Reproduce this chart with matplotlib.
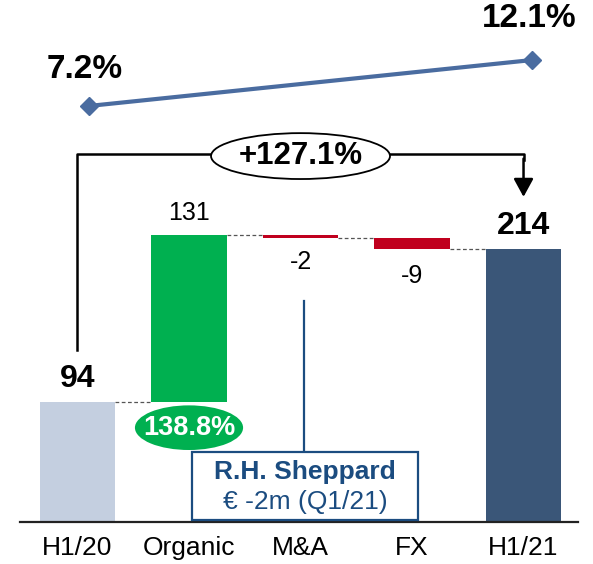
import matplotlib.pyplot as plt
from matplotlib.patches import Ellipse, Rectangle

plt.rcParams["font.family"] = ["Liberation Sans", "DejaVu Sans"]

# EBITDA bridge H1/20 -> H1/21 (EUR m)
categories = ["H1/20", "Organic", "M&A", "FX", "H1/21"]
start_value = 94
deltas = [131, -2, -9]
end_value = 214
value_labels = ["94", "131", "-2", "-9", "214"]

margin_pos = [0.1, 4.08]
margins = [7.2, 12.1]
margin_labels = ["7.2%", "12.1%"]

growth_label = "+127.1%"
organic_label = "138.8%"
box_title = "R.H. Sheppard"
box_text = "€ -2m (Q1/21)"

c_start = "#C4CFE0"
c_up = "#00B050"
c_down = "#C0001E"
c_end = "#3A5678"
c_line = "#4A6CA0"
c_box = "#1B4C80"

# waterfall geometry
levels = [start_value]
for d in deltas:
    levels.append(levels[-1] + d)
bottoms = [0]
heights = [start_value]
colors = [c_start]
for i, d in enumerate(deltas):
    bottoms.append(min(levels[i], levels[i + 1]))
    heights.append(abs(d))
    colors.append(c_up if d > 0 else c_down)
bottoms.append(0)
heights.append(end_value)
colors.append(c_end)
x = list(range(len(categories)))
width = 0.673

fig = plt.figure(figsize=(5.93, 5.64), dpi=100)
ax = fig.add_axes([0, 0, 1, 1])
ax.set_xlim(-0.695, 4.623)
ax.set_ylim(-32.9, 409.4)
ax.axis("off")

ax.bar(x, heights, bottom=bottoms, width=width, color=colors, zorder=2)

# connectors between bars
run = [start_value] + levels[1:]
for i in range(len(x) - 1):
    ax.plot([x[i] + width / 2, x[i + 1] - width / 2], [run[i], run[i]],
            ls=(0, (3, 2)), color="#555555", lw=0.9, zorder=1)

# baseline
ax.plot([-0.516, 4.489], [0, 0], color="#222222", lw=1.6, zorder=3)

# value labels
ax.text(x[0], start_value + 18, value_labels[0], ha="center", va="center",
        fontsize=23, fontweight="bold")
ax.text(x[1], levels[1] + 17, value_labels[1], ha="center", va="center", fontsize=18)
ax.text(x[2], levels[2] - 19, value_labels[2], ha="center", va="center", fontsize=18)
ax.text(x[3], levels[3] - 21, value_labels[3], ha="center", va="center", fontsize=18)
ax.text(x[4], end_value + 18, value_labels[4], ha="center", va="center",
        fontsize=23, fontweight="bold")

# category labels
for xi, cat in zip(x, categories):
    ax.text(xi, -20.4, cat, ha="center", va="center", fontsize=19)

# growth bracket with arrow
br_y = 289
ax.plot([x[0], x[0], x[4], x[4]],
        [start_value + 41, br_y, br_y, br_y - 5], color="black", lw=1.8, zorder=3)
ax.annotate("", xy=(x[4], end_value + 41), xytext=(x[4], br_y - 4),
            arrowprops=dict(arrowstyle="-|>,head_length=0.55,head_width=0.3",
                            mutation_scale=20, color="black", lw=1.8,
                            shrinkA=0, shrinkB=0), zorder=3)
ax.add_patch(Ellipse((2.0, 287), 1.605, 36, facecolor="white",
                     edgecolor="black", lw=1.3, zorder=4))
ax.text(2.0, 287, growth_label, ha="center", va="center", fontsize=22.5,
        fontweight="bold", zorder=5)

# organic growth bubble
ax.add_patch(Ellipse((x[1], start_value - 20), 0.97, 35, facecolor=c_up,
                     edgecolor="none", zorder=4))
ax.text(x[1], start_value - 20, organic_label, ha="center", va="center",
        fontsize=19.5, fontweight="bold", color="white", zorder=5)

# acquisition callout
ax.plot([2.03, 2.03], [levels[2] - 50, 54.9], color=c_box, lw=1.6, zorder=3)
ax.add_patch(Rectangle((1.027, 1.6), 2.027, 53.3, facecolor="white",
                       edgecolor=c_box, lw=1.6, zorder=4))
ax.text(2.04, 39.2, box_title, ha="center", va="center", fontsize=19,
        fontweight="bold", color=c_box, zorder=5)
ax.text(2.04, 15.7, box_text, ha="center", va="center", fontsize=19,
        color=c_box, zorder=5)

# EBITDA margin line
ax2 = ax.twinx()
ax2.set_ylim(-41.58, 18.49)
ax2.axis("off")
ax2.plot(margin_pos, margins, color=c_line, lw=3, marker="D", ms=9.5, zorder=3)
ax2.annotate(margin_labels[0], (margin_pos[0], margins[0]), xytext=(-3, 26),
             textcoords="offset points", ha="center", va="center",
             fontsize=24, fontweight="bold")
ax2.annotate(margin_labels[1], (margin_pos[1], margins[1]), xytext=(-2, 30),
             textcoords="offset points", ha="center", va="center",
             fontsize=24, fontweight="bold")

fig.savefig("out.png", dpi=100)
